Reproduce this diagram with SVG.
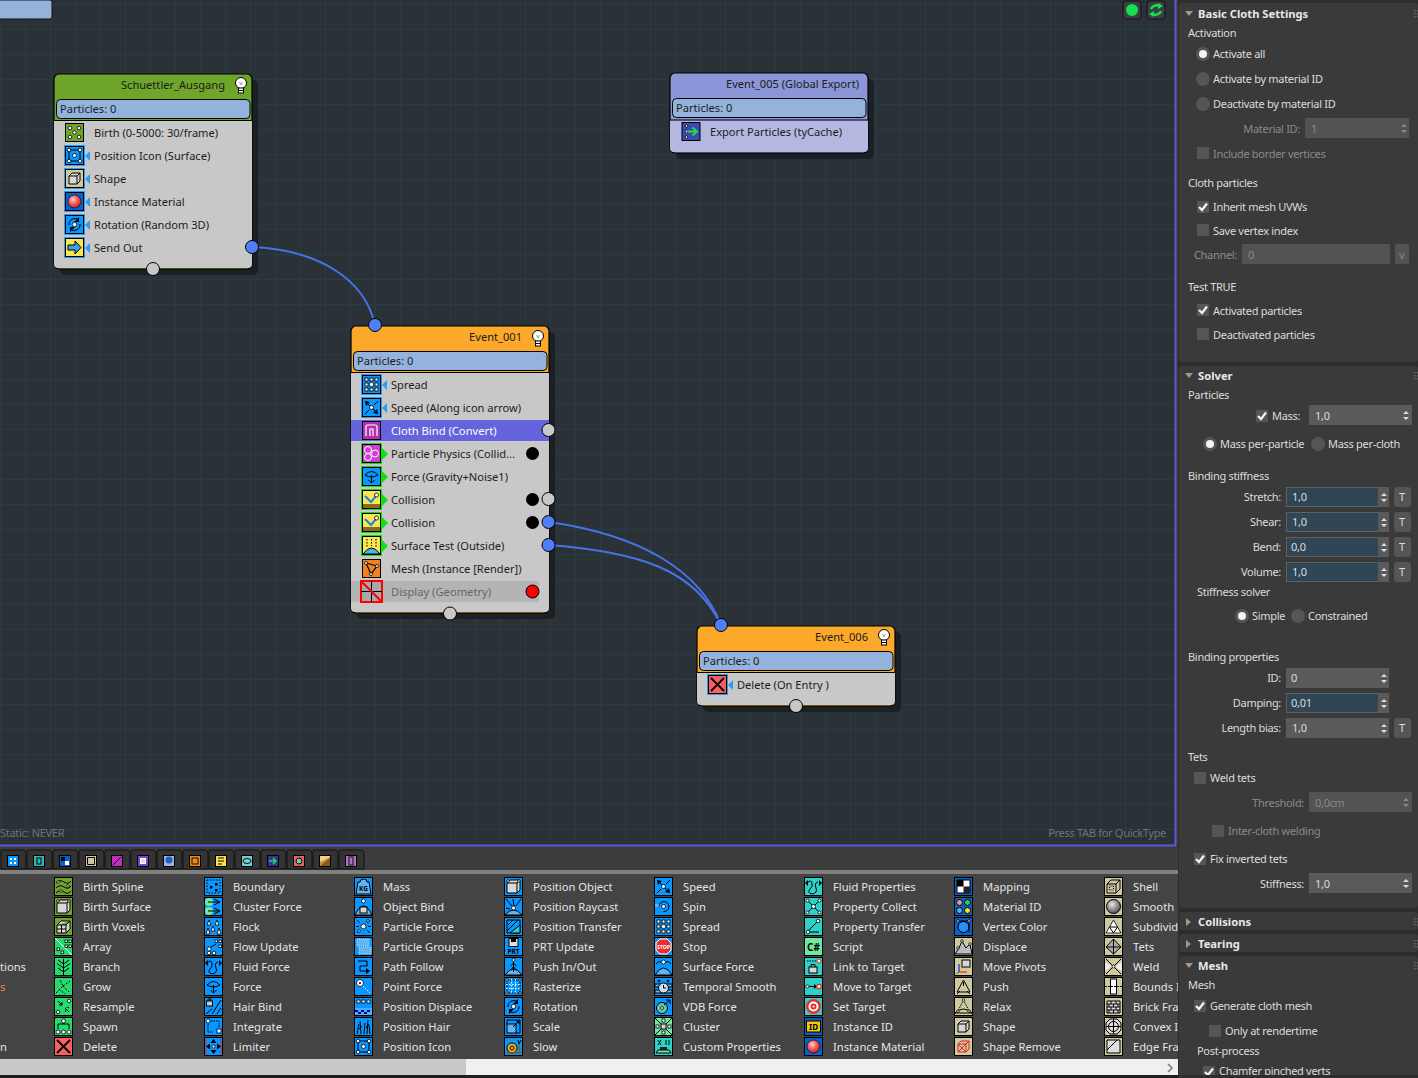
<svg xmlns="http://www.w3.org/2000/svg" width="1418" height="1078" viewBox="0 0 1418 1078">
<style>
text{font-family:"Noto Sans","Open Sans","Liberation Sans",sans-serif;font-size:11.2px}
.nt{fill:#1c1c1c;font-size:11.1px}.dt{fill:#e6e6e6}.pt,.gt{font-size:11px;letter-spacing:-.3px}.pt{fill:#dcdcdc}.gt{fill:#8a8a8a}.b{font-weight:700;font-size:11.2px;fill:#e8e8e8}.r{text-anchor:end}
.ol{fill:#6ea52a}.gr{fill:#27d96e}.bl{fill:#0a96ff}.te{fill:#2fd0c8}.db{fill:#0a5fc8}.kh{fill:#cfc9a0}.re{fill:#f55f5f}.lg{fill:#70e8a0}
.k{fill:none;stroke:#000;stroke-width:1}.w{fill:#fff;stroke:#000;stroke-width:.8}.kf{fill:#000}.lt{fill:#d8d8d8;stroke:#000;stroke-width:1}
.node{stroke:#000;stroke-width:1.2}.sh{fill:#1b2024}.bar{fill:#94b3dc;stroke:#000;stroke-width:1}.pin{stroke:#000;stroke-width:1}.gp{fill:#c8c8c8}.bp{fill:#4f7ff8}
.dot{fill:#000}.wire{fill:none;stroke:#4a72e8;stroke-width:2}
.f{fill:#5a5a5a}.fd{fill:#535353}.fb{fill:#2f4656;stroke:#606060;stroke-width:1}.btn{fill:#555}.cb{fill:#555}.ro{fill:#555}.sel{fill:#f4f4f4}.sep{fill:#2d2d2d}.tab{fill:#333;stroke:#111;stroke-width:1}
</style>
<defs>
<pattern id="grid" width="25" height="25" patternUnits="userSpaceOnUse" patternTransform="translate(0,4)"><rect width="25" height="25" fill="#2a3238"/><path d="M0 .5H25M.5 0V25" stroke="#233f45" stroke-width="1" fill="none"/></pattern>
<clipPath id="depotClip"><rect x="0" y="874" width="1178" height="185"/></clipPath>
<clipPath id="panelClip"><rect x="1179" y="0" width="239" height="1075"/></clipPath>
<radialGradient id="ball" cx=".4" cy=".35" r=".7"><stop offset="0" stop-color="#ffd0d0"/><stop offset=".5" stop-color="#f05a5a"/><stop offset="1" stop-color="#c02020"/></radialGradient>
<radialGradient id="gball" cx=".4" cy=".35" r=".7"><stop offset="0" stop-color="#e8e8e8"/><stop offset="1" stop-color="#444"/></radialGradient>
<rect id="bx" x=".5" y=".5" width="18" height="18" stroke="#000" stroke-width="1"/>
<rect id="hb" x="-1" y="-1" width="21" height="21" fill="#2f9bf0"/>
<rect id="hg" x="-1" y="-1" width="21" height="21" fill="#10e010"/>
<polygon id="tb" points="5,-5 0,0 5,5" fill="#2f9bf0"/>
<polygon id="tg" points="0,-6 6,0 0,6" fill="#10e010"/>
<g id="bulb"><circle cx="0" cy="-2" r="5.500" fill="#fff" stroke="#000"/><path d="M-1.500 -3L0 0L1.500 -3" fill="none" stroke="#999"/><rect x="-2.500" y="3" width="5" height="5" fill="#fff" stroke="#000"/><path d="M-2.500 5.500H2.500" stroke="#000"/></g>
<g id="d5"><circle class="w" cx="5" cy="5" r="1.800"/><circle class="w" cx="14" cy="5" r="1.800"/><circle class="w" cx="9.500" cy="9.500" r="1.800"/><circle class="w" cx="5" cy="14" r="1.800"/><circle class="w" cx="14" cy="14" r="1.800"/></g>
<g id="pos"><rect class="k" x="4" y="4" width="11" height="11"/><circle class="w" cx="4" cy="4" r="1.800"/><circle class="w" cx="15" cy="4" r="1.800"/><circle class="w" cx="4" cy="15" r="1.800"/><circle class="w" cx="15" cy="15" r="1.800"/><circle class="w" cx="9.500" cy="9.500" r="2"/></g>
<g id="spread"><rect class="w" x="3" y="3" width="3" height="3"/><rect class="w" x="8" y="3" width="3" height="3"/><rect class="w" x="13" y="3" width="3" height="3"/><rect class="w" x="3" y="8" width="3" height="3"/><rect class="w" x="13" y="8" width="3" height="3"/><rect class="w" x="3" y="13" width="3" height="3"/><rect class="w" x="8" y="13" width="3" height="3"/><rect class="w" x="13" y="13" width="3" height="3"/><circle class="w" cx="9.500" cy="9.500" r="2.200"/></g>
<g id="speed"><path class="k" d="M3 3L16 16M16 3L12 7M3 16L7 12" stroke-width="1.500"/><path class="kf" d="M16 16l-5 -1 4 -4zM3 3l5 1 -4 4z"/><circle class="w" cx="9.500" cy="9.500" r="2"/></g>
<g id="rot"><path class="k" d="M4 10A6 6 0 0 1 14 5M15 9A6 6 0 0 1 5 14" stroke-width="1.200"/><path class="kf" d="M14 2v5h-5zM5 17v-5h5z"/><circle class="w" cx="9.500" cy="9.500" r="2.200"/></g>
<g id="cube"><path class="lt" d="M4 7L7 4H15V12L12 15H4zM4 7H12V15M12 7L15 4"/></g>
<g id="sphere"><circle cx="9.500" cy="9.500" r="6.500" fill="url(#ball)" stroke="#000" stroke-width=".6"/></g>
<g id="send"><path d="M3 7H10V3L16 9.500L10 16V12H3z" fill="#3aa0f0" stroke="#000"/></g>
<g id="force"><path class="k" d="M3 8Q9.500 1 16 8Q9.500 12 3 8M9.500 8V16M6.500 13L9.500 16L12.500 13" /></g>
<g id="collide"><rect x="1" y="14" width="17" height="4" fill="#8a6a20"/><path d="M3 6L9 12L14 6" fill="none" stroke="#2080e0" stroke-width="2"/><circle class="w" cx="14.500" cy="5" r="2"/></g>
<g id="surface"><path d="M1 18Q9.500 6 18 18z" fill="#50b0f0" stroke="#000"/><path class="k" stroke-dasharray="1.500 1.500" d="M5 3V12M9.500 3V10M14 3V12"/></g>
<g id="phys"><circle cx="6" cy="6" r="3.500" fill="none" stroke="#fff"/><circle cx="6" cy="13" r="3.500" fill="none" stroke="#fff"/><circle cx="13" cy="9.500" r="3.500" fill="none" stroke="#fff"/></g>
<g id="cloth"><path d="M4 15V6Q4 4 6 4H13Q15 4 15 6V15M8 15V8H11V15" fill="none" stroke="#fff" stroke-width="1.200"/></g>
<g id="mesh"><path d="M4 4L15 7L9 15z" fill="none" stroke="#000" stroke-width="1.200"/><circle class="w" cx="4" cy="4" r="1.500"/><circle class="w" cx="15" cy="7" r="1.500"/><circle class="w" cx="9" cy="15" r="1.500"/></g>
<g id="x"><path d="M3 3L16 16M16 3L3 16" stroke="#000" stroke-width="1.800" fill="none"/></g>
<g id="spline"><path class="k" d="M2 6Q6 2 10 5T17 4M2 11Q6 7 10 10T17 9M2 16Q6 12 10 15T17 14"/><circle class="w" cx="4" cy="5" r="1.300"/><circle class="w" cx="14" cy="9" r="1.300"/><circle class="w" cx="7" cy="14" r="1.300"/></g>
<g id="vox"><path class="lt" d="M3 8L7 4H16V12L12 16H3zM3 12H12M7.500 8V16M12 8V16M3 8H12L16 4"/></g>
<g id="array"><path d="M1 1L18 18" stroke="#fff" fill="none"/><rect class="w" x="11" y="3" width="2.500" height="2.500"/><rect class="w" x="15" y="3" width="2.500" height="2.500"/><rect class="w" x="11" y="8" width="2.500" height="2.500"/><rect class="w" x="15" y="8" width="2.500" height="2.500"/><rect class="w" x="3" y="11" width="2.500" height="2.500"/><rect class="w" x="7" y="14" width="2.500" height="2.500"/></g>
<g id="tree"><path class="k" d="M9.500 2V18M9.500 7L4 3M9.500 7L15 3M9.500 11L3 6.500M9.500 11L16 6.500M9.500 15L4 11M9.500 15L15 11"/></g>
<g id="grow"><path class="k" stroke-width="1.600" stroke-dasharray="2 1.500" d="M2 16L9 9L6 3M9 9L16 4M9 9L15 15M5 12L11 17"/></g>
<g id="resample"><path class="k" d="M8 8L4 4M11 11L15 15M8 8V5M8 8H5"/><circle class="w" cx="15" cy="4" r="1.800"/><circle class="w" cx="4" cy="15" r="1.800"/><path class="kf" d="M11 11h4v-1zM11 11v4h1z"/></g>
<g id="spawn"><circle class="w" cx="9.500" cy="4" r="2"/><path class="k" d="M9.500 6V7H4V12M9.500 7H15V12"/><circle class="w" cx="4" cy="15" r="2"/><circle class="w" cx="15" cy="15" r="2"/><circle class="w" cx="9.500" cy="15" r="2"/></g>
<g id="bound"><rect x="3" y="3" width="13" height="13" fill="none" stroke="#000" stroke-dasharray="1.500 1.500"/><rect class="kf" x="6" y="9" width="2.500" height="2.500"/><rect class="kf" x="11" y="6" width="2.500" height="2.500"/><rect class="kf" x="11" y="12" width="2.500" height="2.500"/></g>
<g id="clf"><circle cx="5" cy="5" r="4" fill="#70e8a0"/><circle cx="5" cy="14" r="4" fill="#70e8a0"/><path class="k" d="M4 5H16M10 2L16 5L10 8M4 14H16M10 11L16 14L10 17"/></g>
<g id="flock"><path class="w" d="M5 3l2 5h-4zM13 3l2 5h-4zM9 9l2 5h-4zM4 11l2 6h-4zM15 11l2 6h-4z"/></g>
<g id="flow"><circle class="w" cx="5" cy="12" r="2"/><circle class="w" cx="5" cy="16" r="1.800"/><circle class="w" cx="10" cy="16" r="1.800"/><rect class="w" x="11" y="3" width="2.500" height="2.500"/><rect class="w" x="15" y="3" width="2.500" height="2.500"/><rect class="w" x="15" y="8" width="2.500" height="2.500"/><path class="k" d="M7 10L12 7"/></g>
<g id="fluid"><path class="k" d="M3 6Q7 2 8 6T6 12Q3 16 8 17Q14 16 12 11T14 5" stroke-width="1.200"/><path class="kf" d="M1 6l3 -3v6zM18 6l-3 -3v6z"/></g>
<g id="hair"><rect x="2.500" y="4" width="6" height="5" fill="#ccc" stroke="#000"/><path class="k" d="M4 4V2H7V4M2 17L8 12M8 17L17 3M13 17L17 11"/></g>
<g id="integrate"><circle class="w" cx="4" cy="4" r="2"/><path class="k" stroke-dasharray="1.500 1" d="M4 7V15H9M7 4H15V10"/><rect class="w" x="13" y="12" width="4" height="4"/></g>
<g id="limit"><path d="M2 2V17M17 2V17" stroke="#e02020" fill="none"/><path class="kf" d="M9.500 2l3 4h-6zM9.500 17l3 -4h-6zM2 9.500l4 -3v6zM17 9.500l-4 -3v6z"/><circle class="w" cx="9.500" cy="9.500" r="1.500"/></g>
<g id="mass"><path d="M6 5Q6 2 9.500 2T13 5H15L17 17H2L4 5z" fill="#64b4f0" stroke="#000"/></g>
<g id="obind"><path d="M1 18Q9.500 0 18 18z" fill="#64b4f0" stroke="#000"/><circle class="w" cx="9.500" cy="4" r="2"/><rect x="6" y="10" width="7" height="6" fill="#d8d8d8" stroke="#000"/></g>
<g id="pforce"><circle class="w" cx="9.500" cy="9.500" r="2.500"/><path class="w" d="M3 3l3 3M16 3l-3 3M3 16l3 -3M16 16l-3 -3M2 9.500h3M14 9.500h3" stroke="#fff"/><circle class="w" cx="14" cy="4" r="1.300"/><circle class="w" cx="5" cy="14" r="1.300"/></g>
<g id="pgroups"><rect x="3" y="2" width="12" height="7" fill="#64b4f0" stroke="#bde" stroke-dasharray="1 1"/><rect x="5" y="10" width="12" height="7" fill="#64b4f0" stroke="#bde" stroke-dasharray="1 1"/></g>
<g id="path"><path class="k" stroke-width="1.500" d="M4 4H13V9H6V14H15"/><path class="kf" d="M12 11l4 3 -4 3z"/></g>
<g id="point"><circle class="w" cx="6" cy="6" r="3.500"/><circle class="kf" cx="6" cy="6" r="1"/><path d="M9 9L16 16" stroke="#fff" stroke-dasharray="1.500 1.500" fill="none"/></g>
<g id="pdisp"><rect class="w" x="3" y="3" width="3" height="3"/><rect class="w" x="8" y="3" width="3" height="3"/><rect class="w" x="13" y="3" width="3" height="3"/><rect x="1" y="11" width="17" height="7" fill="#fff" opacity=".25"/><path d="M1 13h3v2h-3zM7 13h3v2h-3zM13 13h3v2h-3zM4 15h3v2h-3zM10 15h3v2h-3z" fill="#00a"/></g>
<g id="phair"><path class="k" stroke-width="1.200" d="M3 17L5 7M7 17L6 4M10 17L11 6M13 17L14 3M16 17L15 8M5 12L8 9M12 11L15 7"/></g>
<g id="pobj"><path class="lt" d="M3 6L6 3H16V13L13 16H3z"/><path class="k" d="M3 6H13V16M13 6L16 3"/><circle class="w" cx="4" cy="4" r="1.300"/><circle class="w" cx="15" cy="4" r="1.300"/></g>
<g id="ray"><path class="k" d="M2 2L8 9M9 2L10 9M17 2L12 9M2 11L6 12"/><path d="M1 18Q9.500 8 18 18z" fill="#64b4f0" stroke="#000"/><circle class="w" cx="9.500" cy="11" r="2"/></g>
<g id="ptr"><path d="M3 3H16V16H3z" fill="none" stroke="#000"/><path d="M16 8V16H6z" fill="#2fd0c8" stroke="#000"/><path class="k" d="M3 14L14 3M4 8L9 3"/></g>
<g id="prt"><rect x="5" y="1.500" width="9" height="8" fill="#e0e0e0" stroke="#000"/><rect class="kf" x="7" y="2" width="5" height="3"/></g>
<g id="push"><path d="M1 18Q9.500 6 18 18z" fill="#64b4f0" stroke="#000"/><path class="k" d="M9.500 4V15M6.500 9L9.500 6L12.500 9M6.500 13L9.500 10L12.500 13"/><circle class="w" cx="9.500" cy="3" r="1.500"/></g>
<g id="raster"><rect class="k" x="3" y="3" width="13" height="13" stroke="#fff" stroke-dasharray="1.500 1.500"/><path d="M7.500 2V17M11.500 2V17M2 7.500H17M2 11.500H17" stroke="#fff" stroke-dasharray="1.500 1.500" fill="none"/><circle class="w" cx="3" cy="3" r="1.200"/><circle class="w" cx="16" cy="3" r="1.200"/><circle class="w" cx="3" cy="16" r="1.200"/><circle class="w" cx="16" cy="16" r="1.200"/></g>
<g id="scale"><rect x="3" y="7" width="9" height="9" fill="#64b4f0" stroke="#000"/><path class="k" d="M3 7V3H16V16H12"/><path class="k" d="M9 10L15 4"/><path class="kf" d="M15.500 3.500v4l-4 -4z"/></g>
<g id="snail"><circle cx="8" cy="11" r="5" fill="#f0b020" stroke="#000"/><circle cx="8" cy="11" r="2" fill="none" stroke="#000"/><path d="M2 16H16L15 7" fill="none" stroke="#8a5a10" stroke-width="1.500"/><path class="k" d="M15 7L14 3M15 7L17 3"/></g>
<g id="stop"><path d="M6 2H13L17 6V13L13 17H6L2 13V6z" fill="#e83030" stroke="#fff"/></g>
<g id="spin"><rect x="1" y="7" width="5" height="3" fill="#64b4f0"/><path class="k" d="M5 9.500A5 5 0 1 1 9.500 14.500" stroke-width="1.200"/><circle class="w" cx="9.500" cy="9.500" r="2"/></g>
<g id="sforce"><path d="M1 18Q9.500 4 18 18z" fill="#64b4f0" stroke="#000"/><circle class="w" cx="9.500" cy="5" r="2"/><path class="k" d="M2 7Q5 3 7 5M12 5Q15 3 17 7"/></g>
<g id="temporal"><rect x="1" y="7" width="17" height="3" fill="#64b4f0" stroke="#000"/><rect x="1" y="13" width="17" height="3" fill="#64b4f0" stroke="#000"/><circle cx="9.500" cy="11" r="5" fill="#cde" stroke="#000"/><path class="k" d="M9.500 8V11H12"/><circle class="k" cx="5" cy="4" r="1"/><circle class="k" cx="14" cy="4" r="1"/></g>
<g id="vdb"><circle cx="8" cy="11" r="5.500" fill="#5fc8a8" stroke="#000"/><circle class="w" cx="8" cy="11" r="1.500"/><path class="k" d="M10 8L16 3M12 3H16V7"/></g>
<g id="cluster"><path class="k" d="M1 1L18 18M18 1L1 18"/><rect class="lt" x="7" y="7" width="5" height="5"/><rect class="w" x="8" y="2" width="3" height="3"/><rect class="w" x="8" y="14" width="3" height="3"/><rect class="w" x="2" y="8" width="3" height="3"/><rect class="w" x="14" y="8" width="3" height="3"/></g>
<g id="custom"><path class="k" d="M4 3L7 8M7 3L4 8M12 3V8M15 3V8"/><path d="M4 13H15L17 16H2z" fill="#70e8a0" stroke="#000"/><rect x="6" y="10" width="7" height="3" fill="#222"/></g>
<g id="collect"><path class="k" d="M3 3L16 16M16 3L3 16"/><circle class="w" cx="9.500" cy="9.500" r="2"/><circle class="w" cx="3.500" cy="3.500" r="1.500"/><circle class="w" cx="15.500" cy="3.500" r="1.500"/><circle class="w" cx="3.500" cy="15.500" r="1.500"/><circle class="w" cx="15.500" cy="15.500" r="1.500"/></g>
<g id="transfer"><path class="k" d="M4 14L13 5M6 15H15"/><circle class="w" cx="14" cy="4" r="1.800"/><circle class="w" cx="4" cy="15" r="1.800"/></g>
<g id="link"><path class="k" stroke-dasharray="1.500 1" d="M3 4H13"/><circle cx="15" cy="4" r="2" fill="#fff" stroke="#e02020"/><rect x="5" y="10" width="8" height="6" fill="#d8d8d8" stroke="#000"/><path class="k" d="M7 10V7.500H11V10"/></g>
<g id="move"><circle class="w" cx="3.500" cy="9.500" r="1.500"/><path class="k" d="M5 9.500H11"/><path class="kf" d="M10 7l3 2.500 -3 2.500z"/><circle cx="15" cy="9.500" r="2.200" fill="#fff" stroke="#e02020" stroke-width="1.200"/></g>
<g id="target"><circle cx="9.500" cy="9.500" r="7.500" fill="#e83030"/><circle cx="9.500" cy="9.500" r="5" fill="#fff"/><circle cx="9.500" cy="9.500" r="3" fill="#e83030"/><circle cx="9.500" cy="9.500" r="1" fill="#fff"/></g>
<g id="idg"><rect x="2.500" y="4" width="14" height="11" fill="#f8c800" stroke="#000"/></g>
<g id="map"><rect x="3" y="3" width="13" height="13" fill="#fff" stroke="#000"/><rect class="kf" x="3" y="3" width="6.500" height="6.500"/><rect x="9.500" y="9.500" width="6.500" height="6.500" fill="#222"/></g>
<g id="matid"><circle cx="5.500" cy="5.500" r="3" fill="#f09090" stroke="#000"/><circle cx="13.500" cy="5.500" r="3" fill="#30d060" stroke="#000"/><circle cx="5.500" cy="13.500" r="3" fill="#50b0f0" stroke="#000"/><circle cx="13.500" cy="13.500" r="3" fill="#f8e030" stroke="#000"/></g>
<g id="vcol"><circle cx="9.500" cy="10" r="5.500" fill="#2f8cf0" stroke="#000"/><path class="k" d="M4 4H15V15"/><circle class="w" cx="4" cy="4" r="1.300"/><circle class="w" cx="15" cy="4" r="1.300"/></g>
<g id="disp"><path d="M1 17L5 11L8 4L12 11L16 7L18 17z" fill="#bbb" stroke="#000"/><circle class="w" cx="8" cy="4" r="1.300"/><circle class="w" cx="16" cy="7" r="1.300"/><circle class="w" cx="4" cy="11" r="1.300"/></g>
<g id="pivots"><rect class="lt" x="8" y="3" width="8" height="7"/><path d="M5 15V7" stroke="#00f" fill="none"/><path d="M5 15H13" stroke="#e00" fill="none"/><path d="M5 15L2 17" stroke="#0a0" fill="none"/></g>
<g id="pushk"><path class="k" d="M9.500 3L16 15H3z"/><path class="k" d="M3 17L6 14M16 17L13 14M9.500 5V9"/></g>
<g id="relax"><path class="k" d="M9.500 3L4 14M9.500 3L15 14" stroke-dasharray="1.500 1"/><path class="k" d="M1 16Q9.500 8 18 16z" stroke-width="1.300"/><circle class="w" cx="9.500" cy="3" r="1.300"/><circle class="w" cx="4" cy="14" r="1.300"/><circle class="w" cx="15" cy="14" r="1.300"/></g>
<g id="shrem"><path d="M4 7L7 4H15V12L12 15H4zM4 7H12V15M12 7L15 4M4 7L12 15M12 7L4 15" fill="none" stroke="#e02020"/></g>
<g id="shell"><path class="k" d="M3 7L7 3H16V12L12 16H3zM3 7H12V16M12 7L16 3"/><rect x="5.500" y="9" width="4" height="4" fill="none" stroke="#000" stroke-dasharray="1 1"/></g>
<g id="smooth"><circle cx="9.500" cy="9.500" r="7" fill="url(#gball)" stroke="#000"/></g>
<g id="subdiv"><path class="w" d="M9.500 3L17 16H2z"/><path class="k" d="M5.500 10H13.500M9.500 16L5.500 10M9.500 16L13.500 10"/></g>
<g id="tets"><path d="M9.500 2L17 10L9.500 17L2 10z" fill="#aaa" stroke="#000"/><path class="k" d="M9.500 2V17M2 10H17"/></g>
<g id="weld"><path class="k" d="M2 2L17 17M17 2L2 17"/><path d="M1 5L8 9.500L1 14zM18 5L11 9.500L18 14z" fill="#eee"/><circle class="w" cx="9.500" cy="9.500" r="1.500"/></g>
<g id="bounds"><rect x="6.500" y="2" width="6" height="15" fill="#fff" stroke="#000"/><path class="k" stroke-dasharray="2 1" d="M1 9.500H18"/></g>
<g id="brick"><path d="M3 4H16V16H3z" fill="#ddd" stroke="#000"/><path class="k" d="M3 7H16M3 10H16M3 13H16M7 4V7M12 4V7M5 7V10M9.500 7V10M14 7V10M7 10V13M12 10V13M5 13V16M9.500 13V16M14 13V16"/></g>
<g id="convex"><path d="M6 2H13L17 6V13L13 17H6L2 13V6z" fill="#ddd" stroke="#000"/><circle class="k" cx="9.500" cy="9.500" r="5"/><path class="k" d="M9.500 2V17M2 9.500H17"/></g>
<g id="edge"><path d="M3 3H16V16H3z" fill="#ddd" stroke="#000"/><path class="k" d="M3 13L13 3"/></g>
<g id="ck"><path d="M2 6L5 9L10 2.500" fill="none" stroke="#f4f4f4" stroke-width="2.200"/></g>
<rect id="cbx" width="12" height="12" fill="#555"/>
<path id="sp" d="M0 4l3 -3 3 3zM0 7l3 3 3 -3z" fill="#dcdcdc"/>
<path id="spd" d="M0 4l3 -3 3 3zM0 7l3 3 3 -3z" fill="#8a8a8a"/>
<path id="rtri" d="M0 0h8l-4 5z" fill="#9a9a9a"/>
<path id="ctri" d="M0 0l5 4 -5 4z" fill="#9a9a9a"/>
<path id="grip" d="M0 0h1.500v1.500h-1.500zM3 0h1.500v1.500h-1.500zM0 3h1.500v1.500h-1.500zM3 3h1.500v1.500h-1.500zM0 6h1.500v1.500h-1.500zM3 6h1.500v1.500h-1.500z" fill="#666"/>
</defs>

<g id="canvas">
<rect width="1418" height="1078" fill="#383838"/>
<rect x="0" y="0" width="1175" height="845" fill="url(#grid)"/>
<rect x="1174.500" y="0" width="2" height="846" fill="#5a5ae0"/>
<rect x="0" y="844.500" width="1176" height="2" fill="#5a5ae0"/>
<rect x="-2" y="0" width="54" height="19" rx="2" fill="#94b3dc" stroke="#111"/>
<text x="0" y="837" class="gt" fill-opacity=".75">Static: NEVER</text>
<text x="1166" y="837" class="gt r" fill-opacity=".75">Press TAB for QuickType</text>
<rect x="1123" y="1" width="18" height="18" rx="3" fill="#3a3f42" stroke="#111"/><circle cx="1132" cy="10" r="6" fill="#14e050"/>
<rect x="1147" y="1" width="18" height="18" rx="3" fill="#3a3f42" stroke="#111"/><path d="M1151 9A6 5 0 0 1 1160 6M1161 11A6 5 0 0 1 1152 14" fill="none" stroke="#14e050" stroke-width="2.500"/><path d="M1158 3l5 3 -5 3zM1154 11l-5 3 5 3z" fill="#14e050"/>
</g>

<g id="connectors">
<path class="wire" d="M252 247C320 250 365 280 375 325"/>
<path class="wire" d="M549 522C640 535 700 570 721 625"/>
<path class="wire" d="M549 545C640 552 695 570 721 625"/>
</g>

<g id="node-schuettler">
<rect class="sh" x="60" y="80" width="198" height="195" rx="5"/>
<rect class="node" x="54" y="74" width="198" height="195" rx="5" fill="#6ea52a"/>
<path d="M54 120.500H252V264Q252 268 248 268H58Q54 268 54 264Z" fill="#c8c8c8"/>
<path d="M54 120.500H252" stroke="#000"/>
<rect class="bar" x="56.500" y="99.500" width="193.500" height="19" rx="4"/>
<text class="nt r" x="225" y="89">Schuettler_Ausgang</text>
<text class="nt" x="60" y="113">Particles: 0</text>
<use href="#bulb" x="241" y="85"/>
<g transform="translate(65,123)"><use href="#bx" class="ol"/><use href="#d5"/></g><text class="nt" x="94" y="137">Birth (0-5000: 30/frame)</text>
<g transform="translate(65,146)"><use href="#hb"/><use href="#bx" class="bl"/><use href="#pos"/><use href="#tb" x="20" y="10"/></g><text class="nt" x="94" y="160">Position Icon (Surface)</text>
<g transform="translate(65,169)"><use href="#hb"/><use href="#bx" class="kh"/><use href="#cube"/><use href="#tb" x="20" y="10"/></g><text class="nt" x="94" y="183">Shape</text>
<g transform="translate(65,192)"><use href="#hb"/><use href="#bx" class="db"/><use href="#sphere"/><use href="#tb" x="20" y="10"/></g><text class="nt" x="94" y="206">Instance Material</text>
<g transform="translate(65,215)"><use href="#hb"/><use href="#bx" class="bl"/><use href="#rot"/><use href="#tb" x="20" y="10"/></g><text class="nt" x="94" y="229">Rotation (Random 3D)</text>
<g transform="translate(65,238)"><use href="#hb"/><use href="#bx" fill="#fae650"/><use href="#send"/><use href="#tb" x="20" y="10"/></g><text class="nt" x="94" y="252">Send Out</text>
<circle class="pin bp" cx="252" cy="247" r="6.500"/>
<circle class="pin gp" cx="153" cy="269" r="6.500"/>
</g>

<g id="node-event-005">
<rect class="sh" x="676" y="79" width="198" height="80" rx="5"/>
<rect class="node" x="670" y="73" width="198" height="80" rx="5" fill="#8a96d8"/>
<path d="M670 120.500H868V148Q868 152 864 152H674Q670 152 670 148Z" fill="#b4b8e0"/>
<path d="M670 120H868" stroke="#000"/>
<rect class="bar" x="672.500" y="98.500" width="193.500" height="19" rx="4"/>
<text class="nt r" x="859" y="88">Event_005 (Global Export)</text>
<text class="nt" x="676" y="112">Particles: 0</text>
<g transform="translate(681.500,122)"><use href="#bx" fill="#3a4ab0"/><circle class="w" cx="5" cy="4" r="1.300"/><circle class="w" cx="5" cy="9.500" r="1.300"/><circle class="w" cx="5" cy="15" r="1.300"/><path d="M6 9.500H15M11 5.500L15.500 9.500L11 13.500" fill="none" stroke="#20e040" stroke-width="1.800"/></g>
<text class="nt" x="710" y="136">Export Particles (tyCache)</text>
</g>

<g id="node-event-001">
<rect class="sh" x="357" y="332" width="198" height="287" rx="5"/>
<rect class="node" x="351" y="326" width="198" height="287" rx="5" fill="#fca82a"/>
<path d="M351 372.500H549V608Q549 612 545 612H355Q351 612 351 608Z" fill="#c8c8c8"/>
<path d="M351 372.500H549" stroke="#000"/>
<rect class="bar" x="353.500" y="351.500" width="193.500" height="19" rx="4"/>
<text class="nt r" x="522" y="341">Event_001</text>
<text class="nt" x="357" y="365">Particles: 0</text>
<use href="#bulb" x="538" y="338"/>
<rect x="351" y="420" width="198" height="21" fill="#6464dc"/>
<rect x="351" y="581" width="188" height="21" fill="#b4b4b4"/>
<g transform="translate(362,375)"><use href="#hb"/><use href="#bx" class="bl"/><use href="#spread"/><use href="#tb" x="20" y="10"/></g><text class="nt" x="391" y="389">Spread</text>
<g transform="translate(362,398)"><use href="#hb"/><use href="#bx" class="bl"/><use href="#speed"/><use href="#tb" x="20" y="10"/></g><text class="nt" x="391" y="412">Speed (Along icon arrow)</text>
<g transform="translate(362,421)"><use href="#bx" fill="#b030b0"/><use href="#cloth"/></g><text fill="#fff" x="391" y="435">Cloth Bind (Convert)</text>
<g transform="translate(362,444)"><use href="#hg"/><use href="#bx" fill="#d040d0"/><use href="#phys"/><use href="#tg" x="20" y="10"/></g><text class="nt" x="391" y="458">Particle Physics (Collid...</text>
<g transform="translate(362,467)"><use href="#hg"/><use href="#bx" class="bl"/><use href="#force"/><use href="#tg" x="20" y="10"/></g><text class="nt" x="391" y="481">Force (Gravity+Noise1)</text>
<g transform="translate(362,490)"><use href="#hg"/><use href="#bx" fill="#fae650"/><use href="#collide"/><use href="#tg" x="20" y="10"/></g><text class="nt" x="391" y="504">Collision</text>
<g transform="translate(362,513)"><use href="#hg"/><use href="#bx" fill="#fae650"/><use href="#collide"/><use href="#tg" x="20" y="10"/></g><text class="nt" x="391" y="527">Collision</text>
<g transform="translate(362,536)"><use href="#hg"/><use href="#bx" fill="#fae650"/><use href="#surface"/><use href="#tg" x="20" y="10"/></g><text class="nt" x="391" y="550">Surface Test (Outside)</text>
<g transform="translate(362,559)"><use href="#bx" fill="#f08020"/><use href="#mesh"/></g><text class="nt" x="391" y="573">Mesh (Instance [Render])</text>
<g transform="translate(361,581)"><rect x="0" y="0" width="21" height="21" fill="#a8a8a8" stroke="#f00" stroke-width="2"/><path d="M10.500 0V21M0 10.500H21" stroke="#000"/><path d="M1 1L20 20" stroke="#f00" stroke-width="2"/></g><text fill="#666" x="391" y="596">Display (Geometry)</text>
<circle class="dot" cx="532.500" cy="453.500" r="6.500"/><circle class="dot" cx="532.500" cy="499.500" r="6.500"/><circle class="dot" cx="532.500" cy="522.500" r="6.500"/>
<circle fill="#f00" stroke="#000" cx="532.500" cy="591.500" r="6.500"/>
<circle class="pin gp" cx="548.500" cy="430" r="6.500"/>
<circle class="pin gp" cx="548.500" cy="499" r="6.500"/>
<circle class="pin bp" cx="548.500" cy="522" r="6.500"/>
<circle class="pin bp" cx="548.500" cy="545" r="6.500"/>
<circle class="pin bp" cx="375" cy="325" r="6.500"/>
<circle class="pin gp" cx="450" cy="613.500" r="6.500"/>
</g>

<g id="node-event-006">
<rect class="sh" x="703" y="632" width="198" height="80" rx="5"/>
<rect class="node" x="697" y="626" width="198" height="80" rx="5" fill="#fca82a"/>
<path d="M697 672.500H895V701Q895 705 891 705H701Q697 705 697 701Z" fill="#c8c8c8"/>
<path d="M697 672.500H895" stroke="#000"/>
<rect class="bar" x="699.500" y="651.500" width="193.500" height="19" rx="4"/>
<text class="nt r" x="868" y="641">Event_006</text>
<text class="nt" x="703" y="665">Particles: 0</text>
<use href="#bulb" x="884" y="637"/>
<g transform="translate(708,675)"><use href="#hb"/><use href="#bx" class="re"/><use href="#x"/><use href="#tb" x="20" y="10"/></g><text class="nt" x="737" y="689">Delete (On Entry )</text>
<circle class="pin bp" cx="721" cy="625" r="6.500"/>
<circle class="pin gp" cx="796" cy="706" r="6.500"/>
</g>

<g id="depot-tabs">
<rect x="0" y="847" width="1178" height="27" fill="#3c3c3c"/>
<path class="tab" d="M1 869V851Q1 850 2 850H24L26 852V869z"/><path class="tab" d="M27 869V851Q27 850 28 850H50L52 852V869z"/><path class="tab" d="M53 869V851Q53 850 54 850H76L78 852V869z"/><path class="tab" d="M79 869V851Q79 850 80 850H102L104 852V869z"/><path class="tab" d="M105 869V851Q105 850 106 850H128L130 852V869z"/><path class="tab" d="M131 869V851Q131 850 132 850H154L156 852V869z"/><path class="tab" d="M157 869V851Q157 850 158 850H180L182 852V869z"/><path class="tab" d="M183 869V851Q183 850 184 850H206L208 852V869z"/><path class="tab" d="M209 869V851Q209 850 210 850H232L234 852V869z"/><path class="tab" d="M235 869V851Q235 850 236 850H258L260 852V869z"/><path class="tab" d="M261 869V851Q261 850 262 850H284L286 852V869z"/><path class="tab" d="M287 869V851Q287 850 288 850H310L312 852V869z"/><path class="tab" d="M313 869V851Q313 850 314 850H336L338 852V869z"/><path class="tab" d="M339 869V851Q339 850 340 850H362L364 852V869z"/>
<g stroke="#000"><rect x="7.500" y="855.500" width="11" height="11" fill="#0a96ff"/><rect x="33.500" y="855.500" width="11" height="11" fill="#2fb8b0"/><rect x="59.500" y="855.500" width="11" height="11" fill="#0a5fc8"/><rect x="85.500" y="855.500" width="11" height="11" fill="#cfc9a0"/><rect x="111.500" y="855.500" width="11" height="11" fill="#c030c0"/><rect x="137.500" y="855.500" width="11" height="11" fill="#7a40d8"/><rect x="163.500" y="855.500" width="11" height="11" fill="#a0b0e8"/><rect x="189.500" y="855.500" width="11" height="11" fill="#f08c10"/><rect x="215.500" y="855.500" width="11" height="11" fill="#f8e050"/><rect x="241.500" y="855.500" width="11" height="11" fill="#70d0d0"/><rect x="267.500" y="855.500" width="11" height="11" fill="#3030a0"/><rect x="293.500" y="855.500" width="11" height="11" fill="#e86060"/><rect x="319.500" y="855.500" width="11" height="11" fill="#c89040"/><rect x="345.500" y="855.500" width="11" height="11" fill="#b070c0"/></g>
<path d="M10 858h2v2h-2zM14 858h2v2h-2zM10 862h2v2h-2zM14 862h2v2h-2z" fill="#fff"/><rect x="37" y="858" width="4" height="6" fill="none" stroke="#000"/><path d="M61 857h4v4h-4z" fill="#000"/><path d="M65 861h4v4h-4z" fill="#fff"/><path d="M87.500 857.500h7v7h-7z" fill="none" stroke="#000"/><path d="M113 865l8 -8" stroke="#111"/><rect x="140.500" y="858.500" width="5" height="5" fill="#ddd" stroke="#fff"/><circle cx="169" cy="860" r="3.500" fill="#2060c0"/><rect x="192" y="858" width="6" height="6" fill="none" stroke="#111"/><path d="M218 858h6M218 861h6M218 864h4" stroke="#111"/><ellipse cx="247" cy="861" rx="4" ry="2.500" fill="none" stroke="#111"/><path d="M269 861h6M273 858l3 3 -3 3" stroke="#20e040" stroke-width="1.500" fill="none"/><circle cx="299" cy="861" r="3" fill="#60d0b0" stroke="#000"/><path d="M320 866l10 -8v8z" fill="#8a5a10"/><path d="M320 862l10 -5v-1h-10z" fill="#f0d090"/><rect x="349" y="857" width="4" height="8" fill="none" stroke="#111"/>
<rect x="0" y="870" width="1178" height="4" fill="#808080"/>
</g>

<g id="depot">
<rect x="0" y="874" width="1178" height="185" fill="#444"/>
<rect x="0" y="1059" width="1178" height="16" fill="#f0f0f0"/>
<rect x="0" y="1059" width="466" height="16" fill="#c8c8c8"/>
<path d="M1168 1064l4 4 -4 4" fill="none" stroke="#777" stroke-width="1.500"/>
<rect x="0" y="1075" width="1178" height="3" fill="#1e1e1e"/>
<g clip-path="url(#depotClip)">
<text class="dt" x="0" y="971">tions</text><text fill="#f08030" x="0" y="991">s</text><text class="dt" x="0" y="1051">n</text>
<g transform="translate(54,877)"><use href="#bx" class="ol"/><use href="#spline"/></g><text class="dt" x="83" y="891">Birth Spline</text>
<g transform="translate(54,897)"><use href="#bx" class="ol"/><use href="#pobj"/></g><text class="dt" x="83" y="911">Birth Surface</text>
<g transform="translate(54,917)"><use href="#bx" class="ol"/><use href="#vox"/></g><text class="dt" x="83" y="931">Birth Voxels</text>
<g transform="translate(54,937)"><use href="#bx" class="gr"/><use href="#array"/></g><text class="dt" x="83" y="951">Array</text>
<g transform="translate(54,957)"><use href="#bx" class="gr"/><use href="#tree"/></g><text class="dt" x="83" y="971">Branch</text>
<g transform="translate(54,977)"><use href="#bx" class="gr"/><use href="#grow"/></g><text class="dt" x="83" y="991">Grow</text>
<g transform="translate(54,997)"><use href="#bx" class="gr"/><use href="#resample"/></g><text class="dt" x="83" y="1011">Resample</text>
<g transform="translate(54,1017)"><use href="#bx" class="gr"/><use href="#spawn"/></g><text class="dt" x="83" y="1031">Spawn</text>
<g transform="translate(54,1037)"><use href="#bx" class="re"/><use href="#x"/></g><text class="dt" x="83" y="1051">Delete</text>

<g transform="translate(204,877)"><use href="#bx" class="bl"/><use href="#bound"/></g><text class="dt" x="233" y="891">Boundary</text>
<g transform="translate(204,897)"><use href="#bx" class="bl"/><use href="#clf"/></g><text class="dt" x="233" y="911">Cluster Force</text>
<g transform="translate(204,917)"><use href="#bx" class="bl"/><use href="#flock"/></g><text class="dt" x="233" y="931">Flock</text>
<g transform="translate(204,937)"><use href="#bx" class="bl"/><use href="#flow"/></g><text class="dt" x="233" y="951">Flow Update</text>
<g transform="translate(204,957)"><use href="#bx" class="bl"/><use href="#fluid"/></g><text class="dt" x="233" y="971">Fluid Force</text>
<g transform="translate(204,977)"><use href="#bx" class="bl"/><use href="#force"/></g><text class="dt" x="233" y="991">Force</text>
<g transform="translate(204,997)"><use href="#bx" class="bl"/><use href="#hair"/></g><text class="dt" x="233" y="1011">Hair Bind</text>
<g transform="translate(204,1017)"><use href="#bx" class="bl"/><use href="#integrate"/></g><text class="dt" x="233" y="1031">Integrate</text>
<g transform="translate(204,1037)"><use href="#bx" class="bl"/><use href="#limit"/></g><text class="dt" x="233" y="1051">Limiter</text>

<g transform="translate(354,877)"><use href="#bx" class="bl"/><use href="#mass"/><text x="9.500" y="14" text-anchor="middle" style="font-size:6.500px;font-weight:700">KG</text></g><text class="dt" x="383" y="891">Mass</text>
<g transform="translate(354,897)"><use href="#bx" class="bl"/><use href="#obind"/></g><text class="dt" x="383" y="911">Object Bind</text>
<g transform="translate(354,917)"><use href="#bx" class="bl"/><use href="#pforce"/></g><text class="dt" x="383" y="931">Particle Force</text>
<g transform="translate(354,937)"><use href="#bx" class="bl"/><use href="#pgroups"/></g><text class="dt" x="383" y="951">Particle Groups</text>
<g transform="translate(354,957)"><use href="#bx" class="bl"/><use href="#path"/></g><text class="dt" x="383" y="971">Path Follow</text>
<g transform="translate(354,977)"><use href="#bx" class="bl"/><use href="#point"/></g><text class="dt" x="383" y="991">Point Force</text>
<g transform="translate(354,997)"><use href="#bx" class="bl"/><use href="#pdisp"/></g><text class="dt" x="383" y="1011">Position Displace</text>
<g transform="translate(354,1017)"><use href="#bx" class="bl"/><use href="#phair"/></g><text class="dt" x="383" y="1031">Position Hair</text>
<g transform="translate(354,1037)"><use href="#bx" class="bl"/><use href="#pos"/></g><text class="dt" x="383" y="1051">Position Icon</text>

<g transform="translate(504,877)"><use href="#bx" class="bl"/><use href="#pobj"/></g><text class="dt" x="533" y="891">Position Object</text>
<g transform="translate(504,897)"><use href="#bx" class="bl"/><use href="#ray"/></g><text class="dt" x="533" y="911">Position Raycast</text>
<g transform="translate(504,917)"><use href="#bx" class="bl"/><use href="#ptr"/></g><text class="dt" x="533" y="931">Position Transfer</text>
<g transform="translate(504,937)"><use href="#bx" class="bl"/><use href="#prt"/><text x="9.500" y="17" text-anchor="middle" style="font-size:6.500px;font-weight:700">PRT</text></g><text class="dt" x="533" y="951">PRT Update</text>
<g transform="translate(504,957)"><use href="#bx" class="bl"/><use href="#push"/></g><text class="dt" x="533" y="971">Push In/Out</text>
<g transform="translate(504,977)"><use href="#bx" class="bl"/><use href="#raster"/></g><text class="dt" x="533" y="991">Rasterize</text>
<g transform="translate(504,997)"><use href="#bx" class="bl"/><use href="#rot"/></g><text class="dt" x="533" y="1011">Rotation</text>
<g transform="translate(504,1017)"><use href="#bx" class="bl"/><use href="#scale"/></g><text class="dt" x="533" y="1031">Scale</text>
<g transform="translate(504,1037)"><use href="#bx" class="bl"/><use href="#snail"/></g><text class="dt" x="533" y="1051">Slow</text>

<g transform="translate(654,877)"><use href="#bx" class="bl"/><use href="#speed"/></g><text class="dt" x="683" y="891">Speed</text>
<g transform="translate(654,897)"><use href="#bx" class="bl"/><use href="#spin"/></g><text class="dt" x="683" y="911">Spin</text>
<g transform="translate(654,917)"><use href="#bx" class="bl"/><use href="#spread"/></g><text class="dt" x="683" y="931">Spread</text>
<g transform="translate(654,937)"><use href="#bx" class="bl"/><use href="#stop"/><text x="9.500" y="12" text-anchor="middle" fill="#fff" style="font-size:5px;font-weight:700">STOP</text></g><text class="dt" x="683" y="951">Stop</text>
<g transform="translate(654,957)"><use href="#bx" class="bl"/><use href="#sforce"/></g><text class="dt" x="683" y="971">Surface Force</text>
<g transform="translate(654,977)"><use href="#bx" class="bl"/><use href="#temporal"/></g><text class="dt" x="683" y="991">Temporal Smooth</text>
<g transform="translate(654,997)"><use href="#bx" class="bl"/><use href="#vdb"/></g><text class="dt" x="683" y="1011">VDB Force</text>
<g transform="translate(654,1017)"><use href="#bx" class="lg"/><use href="#cluster"/></g><text class="dt" x="683" y="1031">Cluster</text>
<g transform="translate(654,1037)"><use href="#bx" class="te"/><use href="#custom"/></g><text class="dt" x="683" y="1051">Custom Properties</text>

<g transform="translate(804,877)"><use href="#bx" class="te"/><use href="#fluid"/></g><text class="dt" x="833" y="891">Fluid Properties</text>
<g transform="translate(804,897)"><use href="#bx" class="te"/><use href="#collect"/></g><text class="dt" x="833" y="911">Property Collect</text>
<g transform="translate(804,917)"><use href="#bx" class="te"/><use href="#transfer"/></g><text class="dt" x="833" y="931">Property Transfer</text>
<g transform="translate(804,937)"><use href="#bx" class="lg"/><text x="9.500" y="13.500" text-anchor="middle" fill="#000" style="font-size:10px;font-weight:700">C#</text></g><text class="dt" x="833" y="951">Script</text>
<g transform="translate(804,957)"><use href="#bx" class="te"/><use href="#link"/></g><text class="dt" x="833" y="971">Link to Target</text>
<g transform="translate(804,977)"><use href="#bx" class="te"/><use href="#move"/></g><text class="dt" x="833" y="991">Move to Target</text>
<g transform="translate(804,997)"><use href="#bx" class="te"/><use href="#target"/></g><text class="dt" x="833" y="1011">Set Target</text>
<g transform="translate(804,1017)"><use href="#bx" class="db"/><use href="#idg"/><text x="9.500" y="13" text-anchor="middle" fill="#000" style="font-size:8px;font-weight:700">ID</text></g><text class="dt" x="833" y="1031">Instance ID</text>
<g transform="translate(804,1037)"><use href="#bx" class="db"/><use href="#sphere"/></g><text class="dt" x="833" y="1051">Instance Material</text>

<g transform="translate(954,877)"><use href="#bx" class="db"/><use href="#map"/></g><text class="dt" x="983" y="891">Mapping</text>
<g transform="translate(954,897)"><use href="#bx" class="db"/><use href="#matid"/></g><text class="dt" x="983" y="911">Material ID</text>
<g transform="translate(954,917)"><use href="#bx" class="db"/><use href="#vcol"/></g><text class="dt" x="983" y="931">Vertex Color</text>
<g transform="translate(954,937)"><use href="#bx" class="kh"/><use href="#disp"/></g><text class="dt" x="983" y="951">Displace</text>
<g transform="translate(954,957)"><use href="#bx" class="kh"/><use href="#pivots"/></g><text class="dt" x="983" y="971">Move Pivots</text>
<g transform="translate(954,977)"><use href="#bx" class="kh"/><use href="#pushk"/></g><text class="dt" x="983" y="991">Push</text>
<g transform="translate(954,997)"><use href="#bx" class="kh"/><use href="#relax"/></g><text class="dt" x="983" y="1011">Relax</text>
<g transform="translate(954,1017)"><use href="#bx" class="kh"/><use href="#cube"/></g><text class="dt" x="983" y="1031">Shape</text>
<g transform="translate(954,1037)"><use href="#bx" class="kh"/><use href="#shrem"/></g><text class="dt" x="983" y="1051">Shape Remove</text>

<g transform="translate(1104,877)"><use href="#bx" class="kh"/><use href="#shell"/></g><text class="dt" x="1133" y="891">Shell</text>
<g transform="translate(1104,897)"><use href="#bx" class="kh"/><use href="#smooth"/></g><text class="dt" x="1133" y="911">Smooth</text>
<g transform="translate(1104,917)"><use href="#bx" class="kh"/><use href="#subdiv"/></g><text class="dt" x="1133" y="931">Subdivid</text>
<g transform="translate(1104,937)"><use href="#bx" class="kh"/><use href="#tets"/></g><text class="dt" x="1133" y="951">Tets</text>
<g transform="translate(1104,957)"><use href="#bx" class="kh"/><use href="#weld"/></g><text class="dt" x="1133" y="971">Weld</text>
<g transform="translate(1104,977)"><use href="#bx" class="kh"/><use href="#bounds"/></g><text class="dt" x="1133" y="991">Bounds I</text>
<g transform="translate(1104,997)"><use href="#bx" class="kh"/><use href="#brick"/></g><text class="dt" x="1133" y="1011">Brick Fra</text>
<g transform="translate(1104,1017)"><use href="#bx" class="kh"/><use href="#convex"/></g><text class="dt" x="1133" y="1031">Convex I</text>
<g transform="translate(1104,1037)"><use href="#bx" class="kh"/><use href="#edge"/></g><text class="dt" x="1133" y="1051">Edge Fra</text>
</g>
</g>

<g id="panel">
<rect x="1178" y="0" width="240" height="1078" fill="#2d2d2d"/>
<rect x="1179" y="3" width="239" height="359" rx="3" fill="#3a3a3a"/>
<rect x="1179" y="366" width="239" height="542" rx="3" fill="#3a3a3a"/>
<rect x="1179" y="912" width="239" height="18" rx="3" fill="#3a3a3a"/>
<rect x="1179" y="934" width="239" height="18" rx="3" fill="#3a3a3a"/>
<rect x="1179" y="956" width="239" height="122" rx="3" fill="#3a3a3a"/>
<rect x="1178" y="1075" width="240" height="3" fill="#2d2d2d"/>
<g clip-path="url(#panelClip)">
<use href="#rtri" x="1185" y="11"/><text class="b" x="1198" y="18">Basic Cloth Settings</text><use href="#grip" x="1414" y="10"/>
<text class="pt" x="1188" y="37">Activation</text>
<circle class="ro" cx="1203" cy="54" r="7"/><circle class="sel" cx="1203" cy="54" r="4"/><text class="pt" x="1213" y="58">Activate all</text>
<circle class="ro" cx="1203" cy="79" r="7"/><text class="pt" x="1213" y="83">Activate by material ID</text>
<circle class="ro" cx="1203" cy="104" r="7"/><text class="pt" x="1213" y="108">Deactivate by material ID</text>
<text class="gt r" x="1300" y="133">Material ID:</text>
<rect class="fd" x="1305" y="118" width="104" height="20"/><text class="gt" x="1311" y="133">1</text><use href="#spd" x="1401" y="123"/>
<use href="#cbx" x="1197" y="147"/><text class="gt" x="1213" y="158">Include border vertices</text>
<text class="pt" x="1188" y="187">Cloth particles</text>
<use href="#cbx" x="1197" y="201"/><use href="#ck" x="1197" y="201"/><text class="pt" x="1213" y="211">Inherit mesh UVWs</text>
<use href="#cbx" x="1197" y="224"/><text class="pt" x="1213" y="235">Save vertex index</text>
<text class="gt r" x="1237" y="259">Channel:</text>
<rect class="fd" x="1242" y="244" width="148" height="20"/><text class="gt" x="1248" y="259">0</text>
<rect class="fd" x="1395" y="244" width="14" height="20" rx="2"/><text class="gt" x="1399" y="259">v</text>
<text class="pt" x="1188" y="291">Test TRUE</text>
<use href="#cbx" x="1197" y="304"/><use href="#ck" x="1197" y="304"/><text class="pt" x="1213" y="315">Activated particles</text>
<use href="#cbx" x="1197" y="328"/><text class="pt" x="1213" y="339">Deactivated particles</text>

<use href="#rtri" x="1185" y="373"/><text class="b" x="1198" y="380">Solver</text><use href="#grip" x="1414" y="372"/>
<text class="pt" x="1188" y="399">Particles</text>
<use href="#cbx" x="1256" y="410"/><use href="#ck" x="1256" y="410"/><text class="pt" x="1272" y="420">Mass:</text>
<rect class="f" x="1309" y="405" width="103" height="20"/><text class="pt" x="1315" y="420">1,0</text><use href="#sp" x="1403" y="410"/>
<circle class="ro" cx="1210" cy="444" r="7"/><circle class="sel" cx="1210" cy="444" r="4"/><text class="pt" x="1220" y="448">Mass per-particle</text>
<circle class="ro" cx="1318" cy="444" r="7"/><text class="pt" x="1328" y="448">Mass per-cloth</text>
<text class="pt" x="1188" y="480">Binding stiffness</text>
<text class="pt r" x="1281" y="501">Stretch:</text><rect class="fb" x="1286.500" y="487.500" width="102" height="19"/><rect class="f" x="1378" y="487" width="11" height="20"/><text class="pt" x="1292" y="501">1,0</text><use href="#sp" x="1381" y="492"/><rect class="btn" x="1394" y="487" width="17" height="20" rx="3"/><text class="pt" x="1399" y="501">T</text>
<text class="pt r" x="1281" y="526">Shear:</text><rect class="fb" x="1286.500" y="512.500" width="102" height="19"/><rect class="f" x="1378" y="512" width="11" height="20"/><text class="pt" x="1292" y="526">1,0</text><use href="#sp" x="1381" y="517"/><rect class="btn" x="1394" y="512" width="17" height="20" rx="3"/><text class="pt" x="1399" y="526">T</text>
<text class="pt r" x="1281" y="551">Bend:</text><rect class="fb" x="1286.500" y="537.500" width="102" height="19"/><rect class="f" x="1378" y="537" width="11" height="20"/><text class="pt" x="1291" y="551">0,0</text><use href="#sp" x="1381" y="542"/><rect class="btn" x="1394" y="537" width="17" height="20" rx="3"/><text class="pt" x="1399" y="551">T</text>
<text class="pt r" x="1281" y="576">Volume:</text><rect class="fb" x="1286.500" y="562.500" width="102" height="19"/><rect class="f" x="1378" y="562" width="11" height="20"/><text class="pt" x="1292" y="576">1,0</text><use href="#sp" x="1381" y="567"/><rect class="btn" x="1394" y="562" width="17" height="20" rx="3"/><text class="pt" x="1399" y="576">T</text>
<text class="pt" x="1197" y="596">Stiffness solver</text>
<circle class="ro" cx="1242" cy="616" r="7"/><circle class="sel" cx="1242" cy="616" r="4"/><text class="pt" x="1252" y="620">Simple</text>
<circle class="ro" cx="1298" cy="616" r="7"/><text class="pt" x="1308" y="620">Constrained</text>
<text class="pt" x="1188" y="661">Binding properties</text>
<text class="pt r" x="1281" y="682">ID:</text><rect class="f" x="1286" y="668" width="103" height="20"/><text class="pt" x="1291" y="682">0</text><use href="#sp" x="1381" y="673"/>
<text class="pt r" x="1281" y="707">Damping:</text><rect class="fb" x="1286.500" y="693.500" width="102" height="19"/><rect class="f" x="1378" y="693" width="11" height="20"/><text class="pt" x="1291" y="707">0,01</text><use href="#sp" x="1381" y="698"/>
<text class="pt r" x="1281" y="732">Length bias:</text><rect class="f" x="1286" y="718" width="103" height="20"/><text class="pt" x="1292" y="732">1,0</text><use href="#sp" x="1381" y="723"/><rect class="btn" x="1394" y="718" width="17" height="20" rx="3"/><text class="pt" x="1399" y="732">T</text>
<text class="pt" x="1188" y="761">Tets</text>
<use href="#cbx" x="1194" y="772"/><text class="pt" x="1210" y="782">Weld tets</text>
<text class="gt r" x="1304" y="807">Threshold:</text>
<rect class="fd" x="1309" y="792" width="103" height="20"/><text class="gt" x="1315" y="807">0,0cm</text><use href="#spd" x="1403" y="797"/>
<use href="#cbx" x="1212" y="825"/><text class="gt" x="1228" y="835">Inter-cloth welding</text>
<use href="#cbx" x="1194" y="853"/><use href="#ck" x="1194" y="853"/><text class="pt" x="1210" y="863">Fix inverted tets</text>
<text class="pt r" x="1304" y="888">Stiffness:</text>
<rect class="f" x="1309" y="873" width="103" height="20"/><text class="pt" x="1315" y="888">1,0</text><use href="#sp" x="1403" y="878"/>

<use href="#ctri" x="1186" y="918"/><text class="b" x="1198" y="926">Collisions</text><use href="#grip" x="1414" y="918"/>
<use href="#ctri" x="1186" y="940"/><text class="b" x="1198" y="948">Tearing</text><use href="#grip" x="1414" y="940"/>
<use href="#rtri" x="1185" y="963"/><text class="b" x="1198" y="970">Mesh</text><use href="#grip" x="1414" y="962"/>
<text class="pt" x="1188" y="989">Mesh</text>
<use href="#cbx" x="1194" y="1000"/><use href="#ck" x="1194" y="1000"/><text class="pt" x="1210" y="1010">Generate cloth mesh</text>
<use href="#cbx" x="1209" y="1025"/><text class="pt" x="1225" y="1035">Only at rendertime</text>
<text class="pt" x="1197" y="1055">Post-process</text>
<use href="#cbx" x="1203" y="1066"/><use href="#ck" x="1203" y="1066"/><text class="pt" x="1219" y="1075">Chamfer pinched verts</text>
</g>
</g>
</svg>
